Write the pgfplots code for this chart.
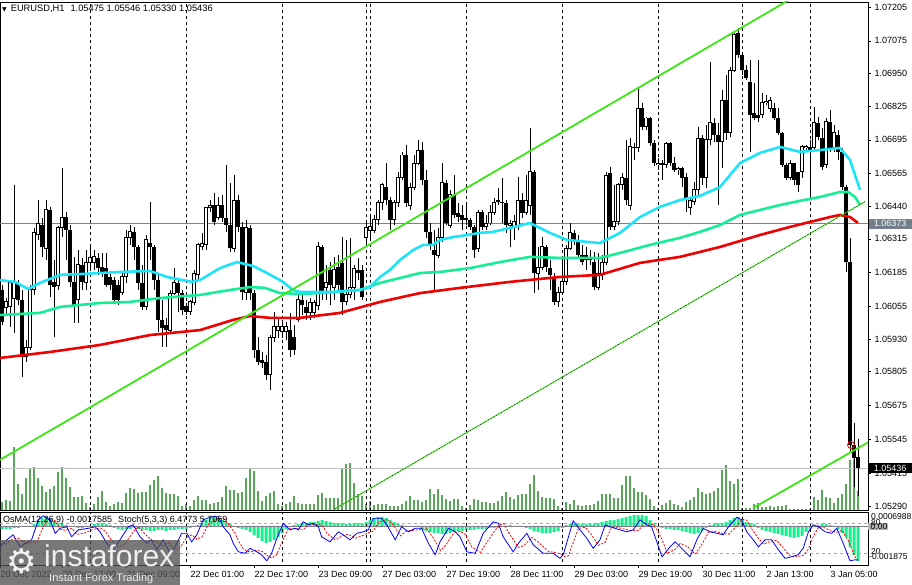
\documentclass[border=0pt]{standalone}
\usepackage{pgfplots}
\pgfplotsset{compat=1.18}
\usepackage{pgfplotstable}
\usepackage{fontspec}
\setmainfont{Liberation Sans}
\newfontfamily\dejavu{DejaVu Sans}
\definecolor{maCyan}{RGB}{30,228,250}
\definecolor{maSpring}{RGB}{20,238,150}
\definecolor{maRed}{RGB}{240,0,0}
\definecolor{chanGreen}{RGB}{60,232,20}
\definecolor{volGreen}{RGB}{0,120,0}
\definecolor{osmaGreen}{RGB}{20,240,140}
\definecolor{levelGray}{RGB}{128,128,140}
\definecolor{bidGray}{RGB}{192,192,192}
\definecolor{boxGray}{RGB}{115,125,140}

\pgfplotstableread{
i o h l c v
0 1.06119 1.06138 1.05985 1.05996 8
1 1.06050 1.06088 1.06023 1.06073 10
2 1.06054 1.06157 1.05977 1.06146 9
3 1.06088 1.06522 1.05954 1.06146 63
4 1.06146 1.06157 1.06061 1.06081 26
5 1.06081 1.06119 1.05785 1.05862 16
6 1.05862 1.05927 1.05843 1.05900 32
7 1.05900 1.06138 1.05889 1.06119 42
8 1.06119 1.06357 1.06100 1.06338 43
9 1.06330 1.06464 1.06311 1.06376 32
10 1.06368 1.06395 1.06246 1.06284 24
11 1.06280 1.06464 1.06234 1.06426 18
12 1.06426 1.06438 1.06092 1.06138 21
13 1.06150 1.06234 1.05939 1.06130 24
14 1.06138 1.06365 1.06119 1.06357 38
15 1.06357 1.06587 1.06322 1.06399 43
16 1.06399 1.06418 1.06234 1.06349 32
17 1.06349 1.06368 1.06130 1.06150 23
18 1.06150 1.06246 1.05992 1.06061 13
19 1.06081 1.06272 1.05992 1.06215 13
20 1.06215 1.06242 1.06119 1.06150 14
21 1.06146 1.06272 1.06119 1.06223 7
22 1.06223 1.06292 1.06203 1.06242 3
23 1.06223 1.06272 1.06196 1.06246 6
24 1.06242 1.06261 1.06177 1.06203 13
25 1.06207 1.06261 1.06169 1.06188 19
26 1.06203 1.06261 1.06130 1.06138 8
27 1.06169 1.06188 1.06119 1.06138 4
28 1.06157 1.06169 1.06073 1.06081 6
29 1.06138 1.06157 1.06061 1.06081 8
30 1.06111 1.06188 1.06100 1.06169 7
31 1.06169 1.06349 1.06146 1.06319 17
32 1.06319 1.06368 1.06292 1.06342 22
33 1.06342 1.06361 1.06234 1.06284 21
34 1.06284 1.06292 1.06119 1.06146 17
35 1.06146 1.06215 1.06042 1.06054 18
36 1.06054 1.06330 1.06042 1.06311 18
37 1.06299 1.06457 1.06234 1.06284 25
38 1.06284 1.06292 1.06119 1.06157 30
39 1.06157 1.06177 1.05958 1.06004 34
40 1.06004 1.06081 1.05900 1.05973 22
41 1.05985 1.06012 1.05900 1.05965 17
42 1.05965 1.06119 1.05954 1.06107 16
43 1.06107 1.06203 1.06100 1.06146 16
44 1.06146 1.06157 1.06035 1.06107 14
45 1.06107 1.06119 1.06023 1.06042 4
46 1.06058 1.06069 1.06023 1.06035 6
47 1.06035 1.06081 1.06023 1.06073 4
48 1.06069 1.06196 1.06061 1.06184 10
49 1.06177 1.06299 1.06157 1.06292 14
50 1.06284 1.06338 1.06272 1.06299 10
51 1.06292 1.06438 1.06272 1.06434 10
52 1.06434 1.06464 1.06418 1.06445 6
53 1.06445 1.06491 1.06368 1.06380 7
54 1.06399 1.06476 1.06388 1.06445 8
55 1.06445 1.06484 1.06380 1.06395 13
56 1.06395 1.06599 1.06342 1.06368 24
57 1.06368 1.06530 1.06265 1.06280 20
58 1.06280 1.06560 1.06265 1.06464 20
59 1.06464 1.06484 1.06342 1.06361 17
60 1.06361 1.06380 1.06081 1.06111 18
61 1.06111 1.06388 1.06081 1.06357 32
62 1.06357 1.06368 1.06081 1.06107 42
63 1.06107 1.06119 1.05858 1.05889 39
64 1.05889 1.05939 1.05831 1.05843 19
65 1.05850 1.05881 1.05820 1.05839 9
66 1.05843 1.05870 1.05774 1.05793 14
67 1.05793 1.05946 1.05735 1.05935 17
68 1.05935 1.06035 1.05919 1.05977 19
69 1.05965 1.06012 1.05935 1.05977 6
70 1.05958 1.06004 1.05935 1.05977 4
71 1.05958 1.05996 1.05927 1.05977 6
72 1.05965 1.06031 1.05862 1.05889 8
73 1.05939 1.05985 1.05870 1.05889 14
74 1.06004 1.06100 1.05996 1.06081 7
75 1.06081 1.06100 1.06023 1.06061 6
76 1.06054 1.06081 1.06004 1.06031 6
77 1.06031 1.06088 1.06004 1.06069 6
78 1.06031 1.06081 1.06012 1.06069 6
79 1.06061 1.06303 1.06042 1.06284 15
80 1.06284 1.06292 1.06081 1.06107 17
81 1.06130 1.06215 1.06081 1.06146 12
82 1.06196 1.06226 1.06061 1.06138 12
83 1.06130 1.06246 1.06081 1.06196 12
84 1.06207 1.06253 1.06119 1.06138 12
85 1.06223 1.06322 1.06023 1.06073 41
86 1.06073 1.06311 1.06061 1.06100 46
87 1.06100 1.06319 1.06088 1.06130 47
88 1.06130 1.06215 1.06081 1.06203 27
89 1.06196 1.06242 1.06157 1.06184 16
90 1.06196 1.06215 1.06081 1.06092 14
91 1.06322 1.06380 1.06292 1.06357 6
92 1.06349 1.06407 1.06311 1.06361 9
93 1.06349 1.06407 1.06338 1.06388 5
94 1.06388 1.06464 1.06368 1.06453 6
95 1.06453 1.06530 1.06426 1.06522 6
96 1.06514 1.06606 1.06445 1.06464 6
97 1.06464 1.06476 1.06349 1.06388 4
98 1.06388 1.06464 1.06368 1.06453 4
99 1.06453 1.06572 1.06438 1.06549 4
100 1.06549 1.06649 1.06541 1.06637 6
101 1.06637 1.06675 1.06438 1.06453 9
102 1.06445 1.06530 1.06426 1.06514 14
103 1.06514 1.06637 1.06503 1.06606 10
104 1.06606 1.06695 1.06599 1.06656 10
105 1.06656 1.06687 1.06522 1.06541 8
106 1.06541 1.06580 1.06319 1.06342 10
107 1.06342 1.06376 1.06272 1.06292 21
108 1.06272 1.06349 1.06111 1.06253 16
109 1.06253 1.06357 1.06242 1.06319 21
110 1.06319 1.06606 1.06303 1.06530 15
111 1.06530 1.06541 1.06368 1.06376 11
112 1.06368 1.06503 1.06357 1.06484 9
113 1.06484 1.06560 1.06395 1.06407 11
114 1.06415 1.06453 1.06380 1.06399 11
115 1.06407 1.06445 1.06349 1.06388 4
116 1.06395 1.06445 1.06368 1.06388 2
117 1.06388 1.06395 1.06349 1.06361 5
118 1.06361 1.06368 1.06242 1.06272 11
119 1.06280 1.06426 1.06265 1.06418 10
120 1.06418 1.06426 1.06349 1.06361 8
121 1.06361 1.06407 1.06349 1.06376 8
122 1.06376 1.06445 1.06368 1.06415 7
123 1.06415 1.06472 1.06407 1.06453 7
124 1.06464 1.06510 1.06445 1.06457 9
125 1.06457 1.06549 1.06376 1.06453 14
126 1.06453 1.06464 1.06338 1.06368 18
127 1.06368 1.06388 1.06284 1.06376 13
128 1.06361 1.06407 1.06311 1.06380 11
129 1.06361 1.06553 1.06349 1.06464 15
130 1.06464 1.06491 1.06395 1.06415 16
131 1.06415 1.06560 1.06407 1.06464 16
132 1.06445 1.06741 1.06407 1.06572 26
133 1.06572 1.06580 1.06107 1.06184 35
134 1.06184 1.06284 1.06119 1.06207 19
135 1.06207 1.06322 1.06196 1.06284 13
136 1.06284 1.06292 1.06188 1.06207 12
137 1.06203 1.06234 1.06119 1.06177 12
138 1.06165 1.06184 1.06061 1.06073 11
139 1.06073 1.06130 1.06054 1.06111 4
140 1.06111 1.06246 1.06100 1.06150 2
141 1.06150 1.06292 1.06138 1.06280 8
142 1.06280 1.06376 1.06272 1.06338 6
143 1.06338 1.06349 1.06292 1.06311 10
144 1.06311 1.06330 1.06242 1.06253 5
145 1.06253 1.06292 1.06215 1.06226 4
146 1.06253 1.06284 1.06196 1.06234 5
147 1.06246 1.06272 1.06215 1.06234 5
148 1.06226 1.06265 1.06119 1.06130 6
149 1.06130 1.06261 1.06119 1.06184 9
150 1.06184 1.06253 1.06157 1.06226 16
151 1.06226 1.06572 1.06215 1.06560 16
152 1.06568 1.06591 1.06349 1.06361 16
153 1.06361 1.06522 1.06349 1.06380 12
154 1.06380 1.06530 1.06368 1.06522 12
155 1.06522 1.06568 1.06503 1.06549 25
156 1.06549 1.06695 1.06445 1.06464 34
157 1.06445 1.06702 1.06426 1.06668 34
158 1.06668 1.06683 1.06618 1.06664 22
159 1.06664 1.06898 1.06649 1.06817 18
160 1.06817 1.06837 1.06733 1.06745 18
161 1.06745 1.06783 1.06733 1.06779 15
162 1.06779 1.06783 1.06672 1.06683 11
163 1.06683 1.06695 1.06595 1.06606 4
164 1.06599 1.06626 1.06580 1.06606 2
165 1.06606 1.06618 1.06541 1.06599 5
166 1.06599 1.06687 1.06587 1.06683 7
167 1.06683 1.06687 1.06595 1.06606 10
168 1.06606 1.06629 1.06572 1.06580 6
169 1.06580 1.06591 1.06560 1.06587 5
170 1.06587 1.06591 1.06514 1.06549 3
171 1.06553 1.06568 1.06418 1.06464 8
172 1.06434 1.06476 1.06407 1.06464 10
173 1.06457 1.06533 1.06445 1.06503 13
174 1.06503 1.06745 1.06484 1.06702 22
175 1.06702 1.06714 1.06522 1.06549 18
176 1.06549 1.06752 1.06510 1.06695 16
177 1.06695 1.06994 1.06675 1.06760 17
178 1.06760 1.06779 1.06687 1.06714 19
179 1.06714 1.06760 1.06445 1.06687 22
180 1.06687 1.06887 1.06587 1.06848 40
181 1.06848 1.06944 1.06695 1.06722 45
182 1.06722 1.06975 1.06706 1.06963 29
183 1.06963 1.07105 1.06956 1.07098 26
184 1.07105 1.07125 1.07009 1.07021 31
185 1.07021 1.07029 1.06944 1.06963 2
186 1.06963 1.06983 1.06925 1.06933 2
187 1.06917 1.07002 1.06649 1.06791 2
188 1.06798 1.06913 1.06771 1.06779 6
189 1.06791 1.07002 1.06764 1.06779 7
190 1.06791 1.06875 1.06779 1.06837 3
191 1.06837 1.06867 1.06829 1.06841 3
192 1.06817 1.06860 1.06802 1.06848 4
193 1.06817 1.06837 1.06771 1.06779 3
194 1.06779 1.06817 1.06714 1.06722 4
195 1.06722 1.06725 1.06591 1.06599 4
196 1.06599 1.06606 1.06541 1.06549 5
197 1.06549 1.06618 1.06541 1.06606 1
198 1.06606 1.06606 1.06522 1.06541 1
199 1.06572 1.06572 1.06495 1.06522 1
200 1.06572 1.06675 1.06549 1.06668 1
201 1.06664 1.06675 1.06656 1.06668 1
202 1.06668 1.06695 1.06464 1.06656 1
203 1.06664 1.06821 1.06656 1.06760 13
204 1.06760 1.06783 1.06695 1.06706 10
205 1.06702 1.06741 1.06580 1.06591 20
206 1.06599 1.06779 1.06587 1.06764 13
207 1.06764 1.06810 1.06649 1.06664 12
208 1.06664 1.06752 1.06649 1.06722 7
209 1.06714 1.06733 1.06618 1.06649 12
210 1.06649 1.06664 1.06503 1.06514 16
211 1.06514 1.06522 1.06188 1.06226 26
212 1.06226 1.06319 1.05497 1.05524 50
213 1.05524 1.05609 1.05363 1.05475 51
214 1.05475 1.05546 1.05330 1.05436 19
}\candles

\pgfplotsset{
  panel/.style={scale only axis, width=868pt, xmin=-0.5, xmax=216.5,
    axis line style={black, line width=0.8pt},
    tick style={black, line width=0.6pt}, tick align=outside, major tick length=3pt,
    clip mode=individual,
    ticklabel style={font=\fontsize{9}{10}\selectfont},
    unbounded coords=jump},
  sep/.style={black, line width=0.7pt, dash pattern=on 3pt off 3pt, forget plot},
}

\begin{document}
\begin{tikzpicture}
\path[use as bounding box] (0pt,0pt) rectangle (912pt,-585pt);

% ---------- volume overlay ----------
\begin{axis}[panel, at={(0pt,-510pt)}, anchor=south west, height=508pt,
  ymin=0, ymax=508, hide axis]
\addplot[ybar, bar width=1.3pt, bar shift=0pt, fill=volGreen, draw=none] table[x=i, y=v] {\candles};
\end{axis}

% ---------- price panel ----------
\begin{axis}[panel, at={(0pt,-510pt)}, anchor=south west, height=508pt,
  ymin=1.052745, ymax=1.072242, xtick=\empty,
  ytick={1.07205,1.07075,1.06950,1.06825,1.06695,1.06565,1.06440,1.06315,1.06185,1.06055,1.05930,1.05805,1.05675,1.05545,1.05415,1.05290},
  yticklabels={1.07205,1.07075,1.06950,1.06825,1.06695,1.06565,1.06440,1.06315,1.06185,1.06055,1.05930,1.05805,1.05675,1.05545,1.05415,1.05290},
  ytick pos=right, yticklabel pos=right, yticklabel style={anchor=west, xshift=0pt}]

\pgfplotsinvokeforeach{22,46,70,91,92,116,140,164,185,202}{
  \addplot[sep] coordinates {(#1,1.0520) (#1,1.0730)};
}
\addplot[levelGray, line width=0.8pt] coordinates {(-0.5,1.06373) (216.5,1.06373)};
\addplot[bidGray, line width=0.8pt] coordinates {(-0.5,1.05436) (216.5,1.05436)};

% wicks
\addplot[draw=none, forget plot, error bars/.cd, y dir=plus, y explicit, error mark=none,
  error bar style={draw=black, line width=0.9pt}]
  table[x=i, y=l, y error plus expr=\thisrow{h}-\thisrow{l}] {\candles};
% bullish bodies (outline + white fill)
\addplot[draw=none, forget plot, restrict expr to domain={\thisrow{c}-\thisrow{o}}{0:1},
  error bars/.cd, y dir=plus, y explicit, error mark=none,
  error bar style={draw=black, line width=3.2pt}]
  table[x=i, y expr=\thisrow{o}-0.000019, y error plus expr=\thisrow{c}-\thisrow{o}+0.000038] {\candles};
\addplot[draw=none, forget plot, restrict expr to domain={\thisrow{c}-\thisrow{o}}{0:1},
  error bars/.cd, y dir=plus, y explicit, error mark=none,
  error bar style={draw=white, line width=1.2pt}]
  table[x=i, y expr=\thisrow{o}+0.000019, y error plus expr={max(\thisrow{c}-\thisrow{o}-0.000038,0)}] {\candles};
% bearish bodies
\addplot[draw=none, forget plot, restrict expr to domain={\thisrow{c}-\thisrow{o}}{-1:-0.0000001},
  error bars/.cd, y dir=plus, y explicit, error mark=none,
  error bar style={draw=black, line width=3.2pt}]
  table[x=i, y expr=\thisrow{c}-0.000012, y error plus expr=\thisrow{o}-\thisrow{c}+0.000024] {\candles};

% moving averages
\addplot[maRed, line width=2.6pt] coordinates {(-0.5,1.05858) (12,1.05881) (24.5,1.05908) (37,1.05946) (49.5,1.05965) (57.75,1.06004) (62,1.06019) (67,1.06012) (74.5,1.06012) (84.5,1.06031) (94.5,1.06073) (104.5,1.06107) (114.5,1.06127) (127,1.06150) (139.5,1.06169) (149.5,1.06177) (159.5,1.06223) (169.5,1.06246) (179.5,1.06284) (189.5,1.06330) (197,1.06361) (202,1.06380) (207,1.06399) (209.5,1.06407) (212,1.06399) (214,1.06376)};
\addplot[maSpring, line width=2.6pt] coordinates {(-0.5,1.06023) (9.5,1.06031) (14.5,1.06054) (24.5,1.06069) (32,1.06073) (39.5,1.06088) (49.5,1.06100) (57,1.06119) (62,1.06130) (65.75,1.06127) (69.5,1.06107) (74.5,1.06104) (79.5,1.06107) (89.5,1.06119) (94.5,1.06146) (99.5,1.06165) (104.5,1.06184) (109.5,1.06188) (117,1.06203) (124.5,1.06226) (132,1.06246) (139.5,1.06242) (149.5,1.06242) (154.5,1.06261) (162,1.06292) (169.5,1.06319) (174.5,1.06342) (179.5,1.06368) (184.5,1.06407) (189.5,1.06426) (194.5,1.06445) (199.5,1.06461) (204.5,1.06476) (209.5,1.06495) (211.5,1.06495) (213.25,1.06476) (214.5,1.06445)};
\addplot[maCyan, line width=2.6pt] coordinates {(-0.5,1.06157) (3.25,1.06150) (6.5,1.06123) (9.5,1.06146) (14.5,1.06177) (19.5,1.06180) (24.5,1.06184) (29.5,1.06188) (37,1.06192) (41.25,1.06169) (47.5,1.06150) (49.5,1.06157) (54.5,1.06203) (58.75,1.06226) (62.75,1.06211) (66.25,1.06184) (70.25,1.06150) (72.75,1.06119) (74.5,1.06111) (82,1.06111) (89.5,1.06119) (92,1.06130) (94.5,1.06169) (97,1.06196) (99.5,1.06234) (102.75,1.06272) (105.25,1.06292) (107.75,1.06292) (109.5,1.06311) (112.75,1.06322) (116.25,1.06330) (119.5,1.06338) (122.75,1.06342) (127,1.06357) (132,1.06376) (137,1.06338) (141.25,1.06311) (149.5,1.06299) (154.5,1.06338) (159.5,1.06399) (164.5,1.06438) (169.5,1.06464) (174.5,1.06480) (179.5,1.06514) (184.5,1.06606) (189.5,1.06645) (194.5,1.06668) (199.5,1.06649) (204.5,1.06656) (209.5,1.06664) (212,1.06618) (214.5,1.06503)};

% trend channel
\addplot[chanGreen, line width=1.8pt] coordinates {(-0.5,1.05467) (200,1.07261)};
\addplot[chanGreen, line width=1pt] coordinates {(83.25,1.05279) (215.75,1.06458)};
\addplot[black, line width=0.45pt, dash pattern=on 1pt off 2pt] coordinates {(83.25,1.05279) (215.75,1.06458)};
\addplot[chanGreen, line width=1.8pt] coordinates {(187.75,1.05282) (216.5,1.05534)};
\addplot[only marks, mark=o, mark size=3.5pt, red, line width=0.8pt] coordinates {(212.25,1.05524)};

\coordinate (lvl) at (axis cs:216.5,1.06373);
\coordinate (bid) at (axis cs:216.5,1.05436);
\end{axis}

\node[fill=boxGray, text=white, anchor=west, inner xsep=2pt, inner ysep=2pt,
  minimum width=43pt, align=left, font=\fontsize{9}{10}\selectfont] at ([xshift=0.5pt]lvl) {1.06373};
\node[fill=black, text=white, anchor=west, inner xsep=2pt, inner ysep=2pt,
  minimum width=43pt, font=\fontsize{9}{10}\selectfont] at ([xshift=0.5pt]bid) {1.05436};

\node[anchor=west, inner sep=0pt, font=\fontsize{9.3}{10}\selectfont] at (2pt,-9pt)
  {{\dejavu\fontsize{6}{7}\selectfont ▼}\hspace{4pt}EURUSD,H1\hspace{6pt}1.05475 1.05546 1.05330 1.05436};

% ---------- oscillator panel ----------
\begin{axis}[panel, at={(0pt,-565pt)}, anchor=south west, height=53pt,
  ymin=-0.00196, ymax=0.000703, ytick=\empty,
  xtick={-0.5,15,31,47,63,79,95,111,127,143,159,175,191,207},
  xticklabels={20 Dec 2022,20 Dec 17:00,21 Dec 09:00,22 Dec 01:00,22 Dec 17:00,23 Dec 09:00,27 Dec 03:00,27 Dec 19:00,28 Dec 11:00,29 Dec 03:00,29 Dec 19:00,30 Dec 11:00,2 Jan 13:00,3 Jan 05:00},
  xtick pos=bottom, xticklabel style={anchor=north west, xshift=-3pt, yshift=0pt}]
\addplot[ybar, bar width=3pt, bar shift=0pt, fill=osmaGreen, draw=none] coordinates {
(0,-0.00015) (1,-0.00015) (2,-0.00015) (3,-0.0001) (4,-0.0001) (5,-0.00005) (6,-0.00005) (7,0) (8,0.0001) (9,0.00025) (10,0.0004) (11,0.00045) (12,0.0004) (13,0.00025) (14,0.00015) (15,0.0001) (16,0.00005) (17,0) (18,-0.00005) (19,-0.0001) (20,-0.0001) (21,-0.00005) (22,0) (23,0.0001) (24,0.00015) (25,0.00015) (26,0.0001) (27,0.00005) (28,-0.0001) (29,-0.00015) (30,-0.0002) (31,-0.00015) (32,-0.00015) (33,-0.0001) (34,-0.00015) (35,-0.0002) (36,-0.0002) (37,-0.00025) (38,-0.00025) (39,-0.0002) (40,-0.0002) (41,-0.00025) (42,-0.0002) (43,-0.0002) (44,-0.00015) (45,-0.00015) (46,-0.00015) (47,-0.0001) (48,-0.00005) (49,0.00005) (50,0.00015) (51,0.0003) (52,0.0004) (53,0.00045) (54,0.0004) (55,0.0003) (56,0.0002) (57,0.0001) (58,0) (59,-0.0001) (60,-0.00015) (61,-0.0002) (62,-0.0003) (63,-0.00045) (64,-0.0006) (65,-0.00075) (66,-0.00085) (67,-0.0008) (68,-0.0007) (69,-0.00055) (70,-0.00035) (71,-0.00015) (72,-0.00005) (73,0.00005) (74,0.0001) (75,0.00015) (76,0.00015) (77,0.0002) (78,0.0002) (79,0.00025) (80,0.0003) (81,0.00025) (82,0.0002) (83,0.00015) (84,0.00015) (85,0.00015) (86,0.0001) (87,0.0001) (88,0.00015) (89,0.00015) (90,0.0001) (91,0.0002) (92,0.0003) (93,0.0004) (94,0.00045) (95,0.00045) (96,0.0004) (97,0.0003) (98,0.0002) (99,0.0001) (100,0.00005) (101,0) (102,-0.00005) (103,-0.00005) (104,0) (105,-0.00015) (106,-0.00025) (107,-0.0003) (108,-0.00035) (109,-0.00035) (110,-0.0004) (111,-0.0004) (112,-0.00035) (113,-0.0003) (114,-0.00025) (115,-0.00025) (116,-0.0002) (117,-0.0002) (118,-0.0002) (119,-0.00015) (120,-0.00015) (121,-0.00015) (122,-0.0001) (123,-0.0001) (124,-0.0001) (125,-0.00005) (126,0) (127,0.00005) (128,0) (129,-0.00005) (130,-0.00005) (131,-0.0001) (132,-0.00015) (133,-0.00025) (134,-0.0003) (135,-0.00035) (136,-0.00035) (137,-0.00035) (138,-0.0003) (139,-0.00025) (140,-0.0001) (141,0.00005) (142,0.0001) (143,0.0001) (144,0.0001) (145,0.0001) (146,0.0001) (147,0.0001) (148,0.0001) (149,0.00015) (150,0.0002) (151,0.00025) (152,0.0003) (153,0.0003) (154,0.00035) (155,0.0004) (156,0.00045) (157,0.0005) (158,0.00055) (159,0.00055) (160,0.00055) (161,0.0005) (162,0.0003) (163,0.00015) (164,0) (165,-0.0001) (166,-0.00015) (167,-0.00015) (168,-0.0002) (169,-0.0002) (170,-0.00025) (171,-0.0003) (172,-0.00035) (173,-0.0004) (174,-0.00035) (175,-0.00025) (176,-0.0001) (177,0.00005) (178,0.0001) (179,0.00015) (180,0.00015) (181,0.0002) (182,0.0003) (183,0.0004) (184,0.00045) (185,0.00035) (186,0.0002) (187,0.00015) (188,0.0001) (189,-0.0001) (190,-0.0002) (191,-0.00025) (192,-0.0003) (193,-0.00035) (194,-0.0004) (195,-0.00045) (196,-0.0005) (197,-0.00055) (198,-0.0006) (199,-0.00055) (200,-0.0005) (201,-0.0003) (202,-0.00015) (203,-0.00005) (204,0.00005) (205,0.0001) (206,0.0001) (207,0.00005) (208,0) (209,-0.00015) (210,-0.00035) (211,-0.00055) (212,-0.00105) (213,-0.00145) (214,-0.0017585)};
\addplot[levelGray, line width=0.8pt] coordinates {(-0.5,0) (216.5,0)};
\pgfplotsinvokeforeach{22,46,70,91,92,116,140,164,185,202}{
  \addplot[sep] coordinates {(#1,-0.003) (#1,0.001)};
}
\end{axis}

\begin{axis}[panel, at={(0pt,-565pt)}, anchor=south west, height=53pt,
  ymin=-3.4, ymax=102.6, hide axis]
\addplot[levelGray!70, line width=0.7pt, dash pattern=on 3pt off 3pt] coordinates {(-0.5,80) (216.5,80)};
\addplot[levelGray!70, line width=0.7pt, dash pattern=on 3pt off 3pt] coordinates {(-0.5,20) (216.5,20)};
\addplot[red, line width=0.8pt, dash pattern=on 2pt off 1.5pt] coordinates {
(0.8,38) (2.5,48) (4.1,50) (5.8,40) (8.7,42) (10.4,75) (11.6,88) (13.3,85) (14.6,68) (15.8,66) (17.5,70) (18.7,58) (20.4,60) (22.9,68) (24.6,71) (25.8,64) (27.5,45) (29.1,32) (30.8,40) (32.9,64) (34.1,73) (35.8,58) (37.5,45) (38.7,44) (40,34) (41.6,42) (43.3,27) (44.6,32) (46.2,52) (47.5,57) (48.7,48) (50,53) (51.6,78) (53.7,90) (55.4,90) (56.6,78) (58.3,60) (59.1,45) (60.4,28) (62.1,22) (63.3,26) (65,24) (66.2,16) (67.5,10) (68.7,18) (70,42) (71.6,70) (73.3,70) (74.6,68) (75.4,68) (76.6,78) (77.9,78) (79.1,78) (80.4,73) (81.2,60) (83.3,47) (85.4,56) (86.6,58) (88.3,50) (90,55) (91.6,61) (92.9,65) (94.1,82) (96.2,88) (97.5,80) (99.6,55) (101.2,65) (102.9,66) (104.6,68) (106.2,69) (107.9,50) (109.6,26) (110.8,35) (112.9,60) (114.6,64) (115.8,58) (117.5,32) (119.6,22) (121.6,47) (124.1,75) (125.4,80) (126.6,62) (129.1,32) (130.4,35) (132.5,52) (134.1,42) (136.6,24) (139.1,20) (140.8,13) (141.6,15) (144.1,70) (145.8,72) (147.5,56) (149.1,36) (150.8,42) (152.1,68) (153.3,73) (155.8,68) (157.5,65) (159.1,66) (160.8,80) (162.5,78) (163.7,68) (165,48) (166.3,20) (168.3,28) (169.6,40) (171.6,32) (173.3,18) (175,38) (176.6,62) (178.3,64) (180,60) (181.6,58) (182.9,68) (185,88) (186.2,86) (187.5,68) (189.1,50) (190.4,38) (192.1,44) (193.7,46) (195.4,30) (197.1,14) (198.7,13) (200.3,16) (201.6,28) (202.9,55) (204.1,72) (205.4,72) (207.1,65) (208.7,62) (210,66) (211.6,45) (213.3,12) (214,5.7069)};
\addplot[blue, line width=0.8pt] coordinates {
(-0.5,33) (1.2,47) (2.8,57) (4.5,33) (7.4,47) (9.1,87) (10.3,95) (12,87) (13.3,60) (14.5,70) (16.2,73) (17.4,53) (19.1,67) (21.6,70) (23.3,73) (24.5,63) (26.2,40) (27.8,27) (29.5,47) (31.6,73) (32.8,77) (34.5,53) (36.2,40) (37.4,47) (38.7,27) (40.3,47) (42,20) (43.3,33) (44.9,60) (46.2,60) (47.4,43) (48.7,57) (50.3,87) (52.4,93) (54.1,93) (55.3,73) (57,57) (57.8,40) (59.1,23) (60.8,20) (62,30) (63.7,23) (64.9,17) (66.2,5) (67.4,20) (68.7,50) (70.3,80) (72,67) (73.3,70) (74.1,67) (75.3,83) (76.6,77) (77.8,80) (79.1,73) (79.9,53) (82,43) (84.1,63) (85.3,57) (87,47) (88.7,60) (90.3,63) (91.6,67) (92.8,90) (94.9,90) (96.2,77) (98.3,47) (99.9,73) (101.6,63) (103.3,70) (104.9,70) (106.6,40) (108.3,17) (109.5,43) (111.6,70) (113.3,63) (114.5,53) (116.2,23) (118.3,20) (120.3,60) (122.8,83) (124.1,80) (125.3,53) (127.8,23) (129.1,40) (131.2,60) (132.8,37) (135.3,20) (137.8,20) (139.5,10) (140.3,17) (142.8,85) (144.5,67) (146.2,50) (147.8,30) (149.5,47) (150.8,77) (152,73) (154.5,67) (156.2,63) (157.8,67) (159.5,87) (161.2,77) (162.4,73) (163.7,43) (165,13) (167,33) (168.3,43) (170.3,27) (172,13) (173.7,47) (175.3,70) (177,63) (178.7,60) (180.3,57) (181.6,73) (183.7,92) (184.9,87) (186.2,63) (187.8,47) (189.1,33) (190.8,47) (192.4,47) (194.1,27) (195.75,10) (197.4,13) (199,17) (200.3,30) (201.6,63) (202.8,77) (204.1,73) (205.75,63) (207.4,60) (208.7,70) (210.3,40) (212,5) (213.25,7) (214,6.4773)};
\node[anchor=west, inner sep=0pt, font=\fontsize{8.5}{9}\selectfont] at (rel axis cs:1,0.906) {\hspace{3pt}0.0006988};
\node[anchor=west, inner sep=0.5pt, fill=gray!60, font=\fontsize{8.5}{9}\selectfont] at (rel axis cs:1,0.72) {\hspace{2pt}0.00};
\node[anchor=west, inner sep=0pt, font=\fontsize{8.5}{9}\selectfont] at (rel axis cs:1,0.80) {\hspace{3pt}80};
\node[anchor=west, inner sep=0pt, font=\fontsize{8.5}{9}\selectfont] at (rel axis cs:1,0.25) {\hspace{3pt}20};
\node[anchor=west, inner sep=0pt, font=\fontsize{8.5}{9}\selectfont] at (rel axis cs:1,0.15) {\hspace{1pt}-0.001875};
\end{axis}

\node[anchor=west, inner sep=0pt, font=\fontsize{9}{10}\selectfont] at (3pt,-520pt)
  {OsMA(12,26,9) -0.0017585\hspace{6pt}Stoch(5,3,3) 6.4773 5.7069};

% ---------- watermark ----------
\fill[black!68, opacity=0.78] (0pt,-540pt) rectangle (180pt,-585pt);
\node[white!90!gray, inner sep=0pt, font={\dejavu\fontsize{34}{34}\selectfont}] at (22pt,-561pt) {⚙};
\node[white!88!gray, anchor=base west, inner sep=0pt, font=\fontsize{30}{30}\selectfont] at (44pt,-566pt) {instaforex};
\node[white!85!gray, anchor=base west, inner sep=0pt, font=\fontsize{11}{12}\selectfont] at (49pt,-581pt) {Instant Forex Trading};
\end{tikzpicture}
\end{document}
